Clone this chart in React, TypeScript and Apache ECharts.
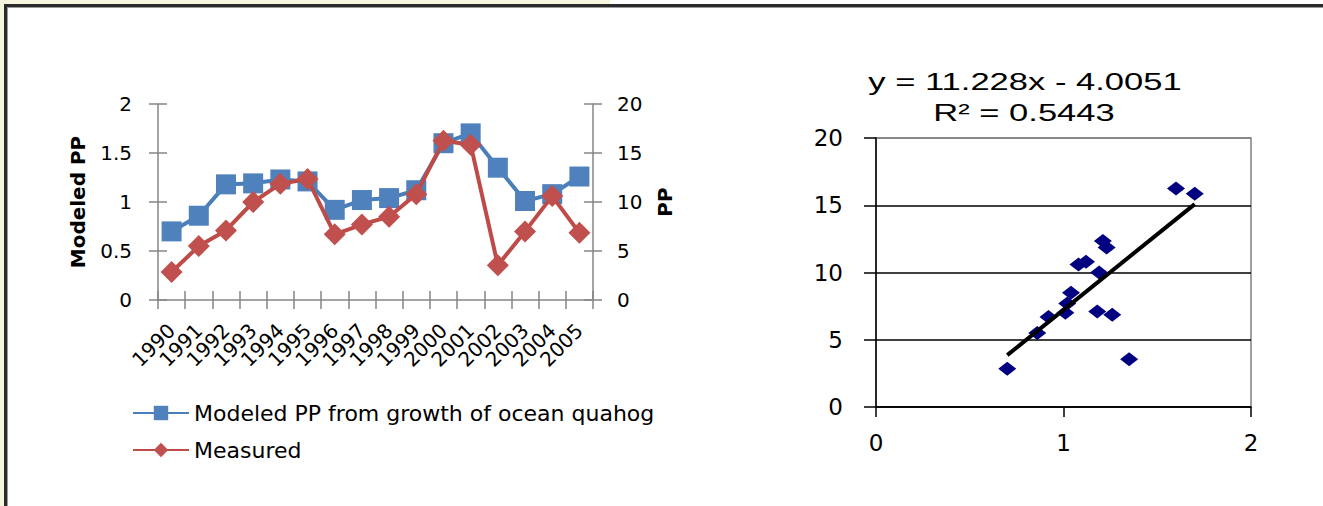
import React, { useEffect, useRef } from "react";
import * as echarts from "echarts";

const years = ["1990", "1991", "1992", "1993", "1994", "1995", "1996", "1997", "1998", "1999", "2000", "2001", "2002", "2003", "2004", "2005"];
const modeledPP = [0.7, 0.86, 1.18, 1.19, 1.23, 1.21, 0.92, 1.02, 1.04, 1.12, 1.6, 1.7, 1.35, 1.01, 1.08, 1.26];
const measuredPP = [2.85, 5.5, 7.1, 10.0, 11.85, 12.35, 6.7, 7.7, 8.5, 10.8, 16.25, 15.85, 3.55, 7.0, 10.6, 6.85];

const modeledName = "Modeled PP from growth of ocean quahog";
const measuredName = "Measured";
const leftAxisName = "Modeled PP";
const rightAxisName = "PP";

const trendSlope = 11.228;
const trendIntercept = -4.0051;
const rSquared = 0.5443;

const FONT = '"DejaVu Sans", sans-serif';
const ARIAL = '"Liberation Sans", Arial, sans-serif';

export default function App() {
  const ref = useRef<HTMLDivElement>(null);

  useEffect(() => {
    if (!ref.current) return;
    const chart = echarts.init(ref.current, undefined, { renderer: "svg" });

    const scatterData = years.map((_, i) => [modeledPP[i], measuredPP[i]]);
    const xMin = Math.min(...modeledPP);
    const xMax = Math.max(...modeledPP);
    const trendData = [
      [xMin, trendSlope * xMin + trendIntercept],
      [xMax, trendSlope * xMax + trendIntercept],
    ];
    const eqText = `y = ${trendSlope}x ${trendIntercept < 0 ? "-" : "+"} ${Math.abs(trendIntercept)}`;
    const r2Text = `R² = ${rSquared}`;

    const gray = "#868686";

    chart.setOption({
      animation: false,
      backgroundColor: "transparent",
      grid: [
        { left: 158, top: 104, width: 435, height: 196 },
        {
          left: 876,
          top: 138,
          width: 375,
          height: 269,
          show: true,
          borderColor: "#808080",
          borderWidth: 1.5,
          backgroundColor: "transparent",
        },
      ],
      legend: {
        data: [modeledName, measuredName],
        orient: "vertical",
        left: 127,
        top: 397,
        itemWidth: 56,
        itemHeight: 18,
        itemGap: 15,
        selectedMode: false,
        textStyle: { fontFamily: FONT, fontSize: 22, color: "#000" },
      },
      xAxis: [
        {
          type: "category",
          gridIndex: 0,
          data: years,
          boundaryGap: true,
          axisLine: { show: true, lineStyle: { color: gray, width: 1.5 } },
          axisTick: { show: true, inside: false, length: 9, interval: 0, lineStyle: { color: gray, width: 1.5 } },
          axisLabel: {
            interval: 0,
            rotate: 45,
            margin: 27,
            fontFamily: FONT,
            fontSize: 20,
            color: "#000",
          },
          splitLine: { show: false },
        },
        {
          type: "category",
          gridIndex: 0,
          data: years,
          position: "bottom",
          boundaryGap: true,
          axisLine: { show: false },
          axisTick: { show: true, inside: true, length: 9, interval: 0, lineStyle: { color: gray, width: 1.5 } },
          axisLabel: { show: false },
          splitLine: { show: false },
        },
        {
          type: "value",
          gridIndex: 1,
          min: 0,
          max: 2,
          interval: 1,
          axisLine: { show: true, onZero: false, lineStyle: { color: "#000", width: 1.5 } },
          axisTick: { show: true, inside: false, length: 10, lineStyle: { color: "#000", width: 1.5 } },
          axisLabel: { margin: 24, fontFamily: FONT, fontSize: 23, color: "#000" },
          splitLine: { show: false },
        },
      ],
      yAxis: [
        {
          type: "value",
          gridIndex: 0,
          position: "left",
          min: 0,
          max: 2,
          interval: 0.5,
          name: leftAxisName,
          nameLocation: "middle",
          nameRotate: 90,
          nameGap: 70,
          nameTextStyle: { fontFamily: FONT, fontSize: 20, fontWeight: "bold", color: "#000" },
          axisLine: { show: true, lineStyle: { color: gray, width: 1.5 } },
          axisTick: { show: true, inside: false, length: 9, lineStyle: { color: gray, width: 1.5 } },
          axisLabel: { margin: 26, fontFamily: FONT, fontSize: 20, color: "#000" },
          splitLine: { show: false },
        },
        {
          type: "value",
          gridIndex: 0,
          position: "right",
          min: 0,
          max: 20,
          interval: 5,
          name: rightAxisName,
          nameLocation: "middle",
          nameRotate: 90,
          nameGap: 62,
          nameTextStyle: { fontFamily: FONT, fontSize: 20, fontWeight: "bold", color: "#000" },
          axisLine: { show: true, lineStyle: { color: gray, width: 1.5 } },
          axisTick: { show: true, inside: false, length: 9, lineStyle: { color: gray, width: 1.5 } },
          axisLabel: { margin: 24, fontFamily: FONT, fontSize: 20, color: "#000" },
          splitLine: { show: false },
        },
        {
          type: "value",
          gridIndex: 0,
          position: "left",
          min: 0,
          max: 2,
          interval: 0.5,
          axisLine: { show: false },
          axisTick: { show: true, inside: true, length: 9, lineStyle: { color: gray, width: 1.5 } },
          axisLabel: { show: false },
          splitLine: { show: false },
        },
        {
          type: "value",
          gridIndex: 0,
          position: "right",
          min: 0,
          max: 20,
          interval: 5,
          axisLine: { show: false },
          axisTick: { show: true, inside: true, length: 9, lineStyle: { color: gray, width: 1.5 } },
          axisLabel: { show: false },
          splitLine: { show: false },
        },
        {
          type: "value",
          gridIndex: 1,
          min: 0,
          max: 20,
          interval: 5,
          axisLine: { show: true, onZero: false, lineStyle: { color: "#000", width: 1.5 } },
          axisTick: { show: true, inside: false, length: 12, lineStyle: { color: "#000", width: 1.5 } },
          axisLabel: { margin: 33, fontFamily: FONT, fontSize: 23, color: "#000" },
          splitLine: {
            show: true,
            lineStyle: { color: ["#000", "#000", "#000", "#000", "#808080"], width: 1.5 },
          },
        },
      ],
      series: [
        {
          name: modeledName,
          type: "line",
          xAxisIndex: 0,
          yAxisIndex: 0,
          data: modeledPP,
          symbol: "rect",
          symbolSize: 20,
          lineStyle: { color: "#4a7ebb", width: 4 },
          itemStyle: { color: "#4f81bd" },
          z: 2,
        },
        {
          name: measuredName,
          type: "line",
          xAxisIndex: 0,
          yAxisIndex: 1,
          data: measuredPP,
          symbol: "diamond",
          symbolSize: 22,
          lineStyle: { color: "#be4b48", width: 4 },
          itemStyle: { color: "#c0504d" },
          z: 3,
        },
        {
          name: "scatter",
          type: "scatter",
          xAxisIndex: 2,
          yAxisIndex: 4,
          data: scatterData,
          symbol: "diamond",
          symbolSize: [18, 14],
          itemStyle: { color: "#000080", opacity: 1 },
          z: 3,
        },
        {
          name: "trend",
          type: "line",
          xAxisIndex: 2,
          yAxisIndex: 4,
          data: trendData,
          symbol: "none",
          lineStyle: { color: "#000", width: 4 },
          z: 4,
        },
      ],
      graphic: [
        {
          type: "text",
          x: 1025,
          y: 82,
          scaleX: 1.44,
          style: {
            text: eqText,
            textAlign: "center",
            textVerticalAlign: "middle",
            fontFamily: ARIAL,
            fontSize: 24,
            fill: "#000",
          },
        },
        {
          type: "text",
          x: 1024,
          y: 113,
          scaleX: 1.44,
          style: {
            text: r2Text,
            textAlign: "center",
            textVerticalAlign: "middle",
            fontFamily: ARIAL,
            fontSize: 24,
            fill: "#000",
          },
        },
      ],
    });

    return () => chart.dispose();
  }, []);

  return (
    <div style={{ position: "fixed", left: 0, top: 0, width: 1323, height: 506, background: "#fff", overflow: "hidden" }}>
      <div style={{ position: "absolute", left: 0, top: 0, width: 610, height: 4, background: "#f6f6de" }} />
      <div style={{ position: "absolute", left: 0, top: 0, width: 4, height: 506, background: "#f6f6de" }} />
      <div
        style={{
          position: "absolute",
          left: 4,
          top: 4,
          right: 0,
          bottom: 0,
          borderTop: "3px solid #2b2b2b",
          borderLeft: "3px solid #2b2b2b",
          boxShadow: "inset 1px 1px 0 #9a9a9a",
        }}
      />
      <div ref={ref} style={{ position: "absolute", left: 0, top: 0, width: 1323, height: 506 }} />
    </div>
  );
}
